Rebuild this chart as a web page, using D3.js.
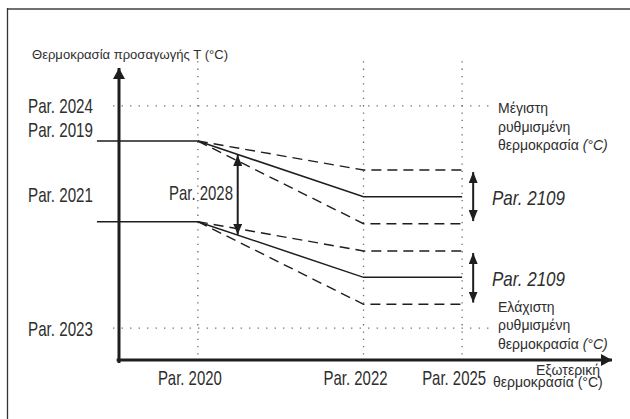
<!DOCTYPE html>
<html><head><meta charset="utf-8">
<script src="https://cdn.jsdelivr.net/npm/d3@7"></script>
<style>
html,body{margin:0;padding:0;background:#fff;}
svg{display:block;font-family:"Liberation Sans",Arial,sans-serif;}
</style></head>
<body>
<script>
// ---- data ----
const xTickLabels = ["Par. 2020", "Par. 2022", "Par. 2025"];
const xTickValues = [20, 62, 87];
const yTickLabels = ["Par. 2024", "Par. 2019", "Par. 2021", "Par. 2023"];
const yTickValues = [87.6, 75.5, 47.7, 11];
const curveX = [-5.6, 20, 62, 87];
const upperSolid = [75.5, 75.5, 56.3, 56.3];
const upperDashHigh = [75.5, 75.5, 65.5, 65.5];
const upperDashLow = [75.5, 75.5, 47, 47];
const lowerSolid = [47.7, 47.7, 28.5, 28.5];
const lowerDashHigh = [47.7, 47.7, 37.6, 37.6];
const lowerDashLow = [47.7, 47.7, 19.2, 19.2];
const slopeParam = "Par. 2028";
const shiftParam = "Par. 2109";
const yTitle = "Θερμοκρασία προσαγωγής T (°C)";
const xTitle = ["Εξωτερική", "θερμοκρασία (°C)"];
const maxLabel = ["Μέγιστη", "ρυθμισμένη", "θερμοκρασία "];
const minLabel = ["Ελάχιστη", "ρυθμισμένη", "θερμοκρασία "];

// ---- layout ----
const W = 630, H = 419;
const svg = d3.select("body").append("svg").attr("width", W).attr("height", H);
const x = d3.scaleLinear().domain([0, 125]).range([119, 612]);
const y = d3.scaleLinear().domain([0, 100]).range([360, 70]);
const ink = "#1e1e1e", txt = "#2e2e2e", dotc = "#6a6a6a";

// frame
svg.append("line").attr("x1", 7).attr("x2", W).attr("y1", 9).attr("y2", 9)
  .attr("stroke", "#707070").attr("stroke-width", 2.2);
svg.append("line").attr("x1", 7.5).attr("x2", 7.5).attr("y1", 8).attr("y2", H)
  .attr("stroke", "#333").attr("stroke-width", 1.3);

const defs = svg.append("defs");
function marker(id, w, h) {
  defs.append("marker").attr("id", id).attr("viewBox", `0 0 ${h} ${w}`)
    .attr("refX", h).attr("refY", w / 2).attr("markerWidth", h).attr("markerHeight", w)
    .attr("markerUnits", "userSpaceOnUse").attr("orient", "auto-start-reverse")
    .append("path").attr("d", `M0,0L${h},${w / 2}L0,${w}Z`).attr("fill", ink);
}
marker("axArrow", 12, 11);
marker("dblArrow", 9, 11);

// dotted reference lines
const dotG = svg.append("g").attr("stroke", dotc).attr("stroke-width", 1.3).attr("fill", "none");
xTickValues.forEach(v => {
  dotG.append("line").attr("x1", x(v)).attr("x2", x(v)).attr("y1", y(103)).attr("y2", y(0))
    .attr("stroke-dasharray", "1.3,6");
});
[yTickValues[0], yTickValues[3]].forEach(v => {
  dotG.append("line").attr("x1", x(-1.5)).attr("x2", x(94.5)).attr("y1", y(v)).attr("y2", y(v))
    .attr("stroke-dasharray", "1.3,7.2");
});

// curves
const line = d3.line().x((d, i) => x(curveX[i])).y(d => y(d));
function drawCurve(vals, dashed) {
  const data = dashed ? vals.slice(1) : vals;
  const lf = d3.line().x((d, i) => x(curveX[dashed ? i + 1 : i])).y(d => y(d));
  svg.append("path").attr("d", lf(data)).attr("fill", "none").attr("stroke", ink)
    .attr("stroke-width", dashed ? 1.4 : 1.5)
    .attr("stroke-dasharray", dashed ? "10,6" : null);
}
drawCurve(upperSolid, false);
drawCurve(upperDashHigh, true);
drawCurve(upperDashLow, true);
drawCurve(lowerSolid, false);
drawCurve(lowerDashHigh, true);
drawCurve(lowerDashLow, true);

// axes
svg.append("line").attr("x1", x(0)).attr("x2", x(0)).attr("y1", y(-1)).attr("y2", y(100) - 2)
  .attr("stroke", ink).attr("stroke-width", 3).attr("marker-end", "url(#axArrow)");
svg.append("line").attr("x1", x(-0.6)).attr("x2", x(125)).attr("y1", y(0)).attr("y2", y(0))
  .attr("stroke", ink).attr("stroke-width", 3).attr("marker-end", "url(#axArrow)");

// double arrows
function interp(vals, xv) {
  for (let i = 0; i < curveX.length - 1; i++) {
    if (xv >= curveX[i] && xv <= curveX[i + 1]) {
      const t = (xv - curveX[i]) / (curveX[i + 1] - curveX[i]);
      return vals[i] + t * (vals[i + 1] - vals[i]);
    }
  }
  return vals[vals.length - 1];
}
function dbl(xv, v1, v2) {
  svg.append("line").attr("x1", x(xv)).attr("x2", x(xv)).attr("y1", y(v1)).attr("y2", y(v2))
    .attr("stroke", ink).attr("stroke-width", 2)
    .attr("marker-start", "url(#dblArrow)").attr("marker-end", "url(#dblArrow)");
}
const ax = 30.1;
dbl(ax, interp(upperSolid, ax) - 0.2, interp(lowerSolid, ax) + 0.1);
dbl(89.8, upperDashHigh[3] - 0.7, upperDashLow[3] + 0.9);
dbl(89.8, lowerDashHigh[3] - 0.7, lowerDashLow[3] + 0.6);

// labels
const parSize = 21;
function parText(t, xp, yp, anchor, len, italic) {
  const e = svg.append("text").attr("x", xp).attr("y", yp).attr("fill", txt)
    .attr("font-size", parSize).attr("text-anchor", anchor)
    .attr("textLength", len).attr("lengthAdjust", "spacingAndGlyphs").text(t);
  if (italic) e.attr("font-style", "italic");
  return e;
}
const yLabelDy = [7, -4, -20, 8];
yTickLabels.forEach((t, i) => parText(t, 28, y(yTickValues[i]) + yLabelDy[i], "start", 65));
xTickLabels.forEach((t, i) => parText(t, x(xTickValues[i]) - 8, 385, "middle", 64));
parText(slopeParam, 233, 200, "end", 64);
parText(shiftParam, 492, 205, "start", 73, true);
parText(shiftParam, 492, 286, "start", 73, true);

svg.append("text").attr("x", 32).attr("y", 59).attr("fill", txt).attr("font-size", 13)
  .attr("textLength", 196).attr("lengthAdjust", "spacingAndGlyphs").text(yTitle);

function block(lines, xp, y0, dy) {
  const t = svg.append("text").attr("x", xp).attr("y", y0).attr("fill", txt).attr("font-size", 14);
  lines.forEach((l, i) => {
    const s = t.append("tspan").attr("x", xp).attr("y", y0 + i * dy).text(l);
    if (i === lines.length - 1) s.append("tspan").attr("font-style", "italic").text("(°C)");
  });
}
block(maxLabel, 498, 113, 18.7);
block(minLabel, 498, 312, 18.3);

svg.append("text").attr("x", 600).attr("y", 375).attr("fill", txt).attr("font-size", 14)
  .attr("text-anchor", "end").text(xTitle[0]);
svg.append("text").attr("x", 493).attr("y", 387).attr("fill", txt).attr("font-size", 14)
  .text(xTitle[1]);
</script>
</body></html>
